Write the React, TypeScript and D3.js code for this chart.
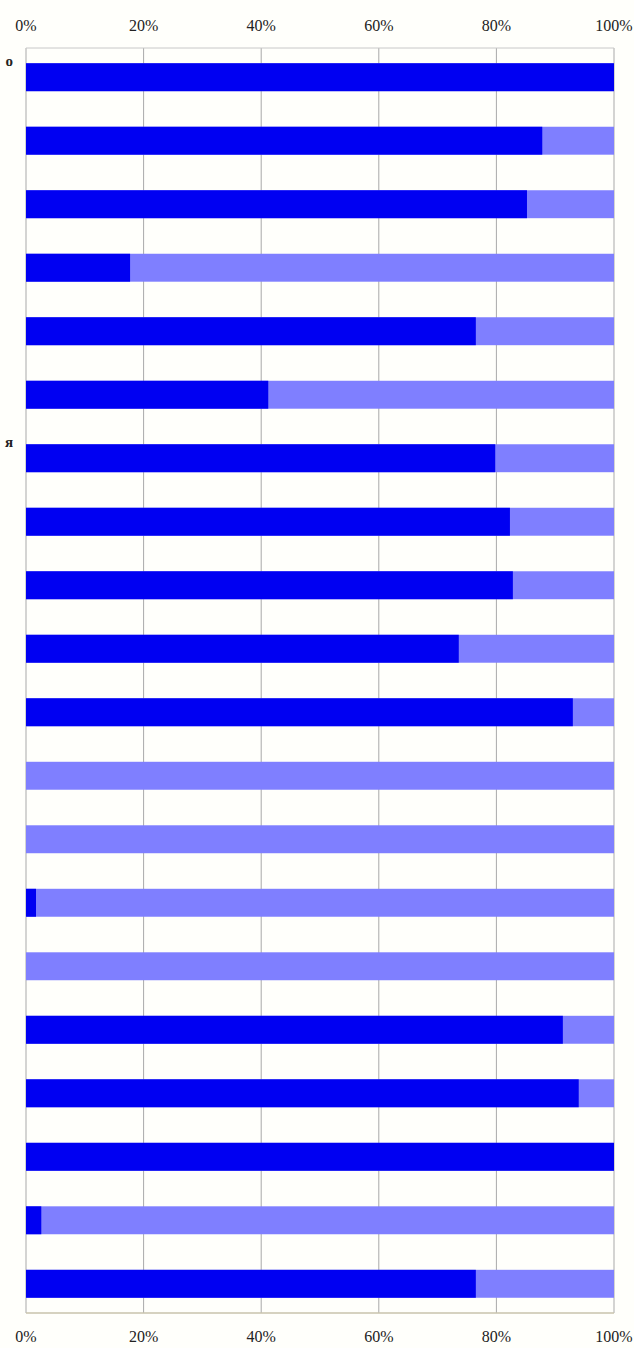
import * as d3 from 'd3'
import React from 'react'

// row labels are cut off in the source; only their last letters show
const categories = ['о', '', '', '', '', '', 'я', '', '', '', '', '', '', '', '', '', '', '', '', '']
const yes = [100, 87.8, 85.2, 17.7, 76.5, 41.2, 79.8, 82.3, 82.8, 73.6, 93.0, 0, 0, 1.7, 0, 91.3, 94.0, 100, 2.6, 76.5]
const ticks = [0, 20, 40, 60, 80, 100]

const W = 634, H = 1348
const m = { top: 48, right: 20, bottom: 35, left: 26 }

export default function App() {
  const
    x = d3.scaleLinear().domain([0, 100]).range([m.left, W - m.right]),
    y = d3.scaleBand<number>().domain(d3.range(yes.length)).range([m.top, H - m.bottom]).paddingInner(0.56).paddingOuter(0.24),
    rows = yes.map((v, i) => ({ i, v, label: categories[i] }))

  return (
    <div style={{ position: 'absolute', left: 0, top: 0 }}>
      <svg width={W} height={H} style={{ display: 'block', background: '#fffffb' }}>
        {ticks.map(t => (
          <line key={t} x1={x(t)} x2={x(t)} y1={m.top} y2={H - m.bottom} stroke='#a9a9a9' strokeWidth={1} />
        ))}
        <line x1={x(0)} x2={x(100)} y1={m.top} y2={m.top} stroke='#c8c8c8' />
        <line x1={x(0)} x2={x(100)} y1={H - m.bottom} y2={H - m.bottom} stroke='#c9c3ad' strokeWidth={1.5} />
        {rows.map(d => (
          <g key={d.i}>
            <rect x={x(0)} y={y(d.i)!} width={x(100) - x(0)} height={y.bandwidth()} fill='#7f7fff' />
            {d.v > 0 && <rect x={x(0)} y={y(d.i)!} width={x(d.v) - x(0)} height={y.bandwidth()} fill='#0000f2' />}
            {d.label && (
              <text x={13} y={y(d.i)! + 3} textAnchor='end' fontFamily='"Liberation Serif", serif' fontWeight='bold' fontSize={15} fill='#222'>{d.label}</text>
            )}
          </g>
        ))}
        {ticks.map(t => (
          <g key={'l' + t} fontFamily='"Liberation Serif", serif' fontSize={16} fill='#222' textAnchor='middle'>
            <text x={x(t)} y={31}>{t}%</text>
            <text x={x(t)} y={H - 6}>{t}%</text>
          </g>
        ))}
      </svg>
    </div>
  )
}
